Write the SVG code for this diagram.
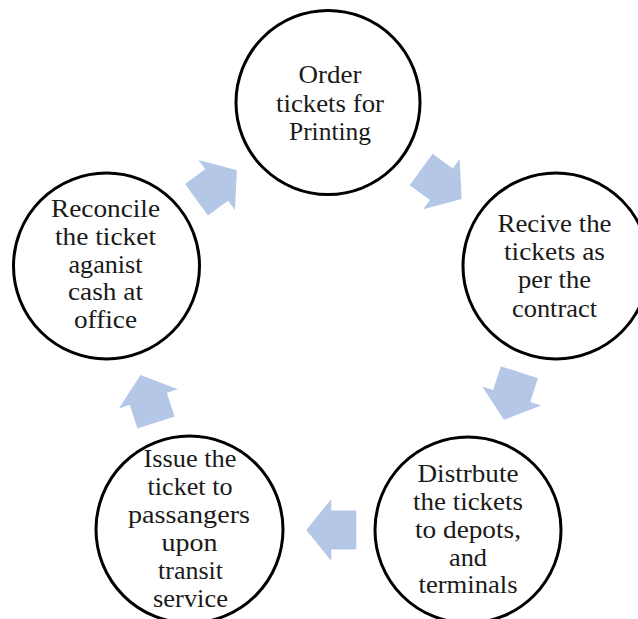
<svg xmlns="http://www.w3.org/2000/svg" width="638" height="619" viewBox="0 0 638 619">
  <style>
    .node circle { fill: #ffffff; stroke: #000000; stroke-width: 3; }
    .node text { font-family: 'Liberation Serif', Tinos, 'Times New Roman', Times, serif; font-size: 25.5px; fill: #1a1a1a; text-anchor: middle; }
    .arrow { fill: #B4C7E7; }
  </style>
  <defs>
    <!-- block arrow pointing right, centred on its midpoint -->
    <path id="blockArrow" class="arrow" d="M -25,-19.5 L 0,-19.5 L 0,-31 L 25,0 L 0,31 L 0,19.5 L -25,19.5 Z"/>
  </defs>
  <rect width="638" height="619" fill="#ffffff"/>

  <g id="connectors">
    <use href="#blockArrow" transform="translate(216.7,185) rotate(-36)"/>
    <use href="#blockArrow" transform="translate(441.4,184.2) rotate(36)"/>
    <use href="#blockArrow" transform="translate(511.7,396) rotate(108)"/>
    <use href="#blockArrow" transform="translate(331.3,530) rotate(180)"/>
    <use href="#blockArrow" transform="translate(148.3,398.8) rotate(-108)"/>
  </g>

  <g id="order" class="node">
    <circle cx="328" cy="102.5" r="92"/>
    <text x="330" y="83" textLength="63" lengthAdjust="spacingAndGlyphs">Order</text>
    <text x="330" y="111.5" textLength="108" lengthAdjust="spacingAndGlyphs">tickets for</text>
    <text x="330" y="139.5" textLength="82" lengthAdjust="spacingAndGlyphs">Printing</text>
  </g>

  <g id="receive" class="node">
    <circle cx="556" cy="266" r="93"/>
    <text x="554.5" y="232" textLength="114" lengthAdjust="spacingAndGlyphs">Recive the</text>
    <text x="554.5" y="260" textLength="101" lengthAdjust="spacingAndGlyphs">tickets as</text>
    <text x="554.5" y="288" textLength="73" lengthAdjust="spacingAndGlyphs">per the</text>
    <text x="554.5" y="316.5" textLength="85" lengthAdjust="spacingAndGlyphs">contract</text>
  </g>

  <g id="distribute" class="node">
    <circle cx="468" cy="530" r="93"/>
    <text x="468" y="482" textLength="101" lengthAdjust="spacingAndGlyphs">Distrbute</text>
    <text x="468" y="510" textLength="110" lengthAdjust="spacingAndGlyphs">the tickets</text>
    <text x="468" y="537.5" textLength="106" lengthAdjust="spacingAndGlyphs">to depots,</text>
    <text x="468" y="565.5" textLength="38" lengthAdjust="spacingAndGlyphs">and</text>
    <text x="468" y="593" textLength="99" lengthAdjust="spacingAndGlyphs">terminals</text>
  </g>

  <g id="issue" class="node">
    <circle cx="189.5" cy="529.5" r="93.5"/>
    <text x="190" y="467" textLength="93" lengthAdjust="spacingAndGlyphs">Issue the</text>
    <text x="190" y="495" textLength="85" lengthAdjust="spacingAndGlyphs">ticket to</text>
    <text x="189" y="523" textLength="122" lengthAdjust="spacingAndGlyphs">passangers</text>
    <text x="189.5" y="550.5" textLength="56" lengthAdjust="spacingAndGlyphs">upon</text>
    <text x="190.5" y="578.5" textLength="65" lengthAdjust="spacingAndGlyphs">transit</text>
    <text x="190.5" y="606.5" textLength="75" lengthAdjust="spacingAndGlyphs">service</text>
  </g>

  <g id="reconcile" class="node">
    <circle cx="106.5" cy="266" r="93"/>
    <text x="105.5" y="217" textLength="109" lengthAdjust="spacingAndGlyphs">Reconcile</text>
    <text x="105.5" y="245" textLength="101" lengthAdjust="spacingAndGlyphs">the ticket</text>
    <text x="105.5" y="272.5" textLength="74" lengthAdjust="spacingAndGlyphs">aganist</text>
    <text x="105.5" y="300" textLength="75" lengthAdjust="spacingAndGlyphs">cash at</text>
    <text x="105.5" y="327.5" textLength="63" lengthAdjust="spacingAndGlyphs">office</text>
  </g>
</svg>
